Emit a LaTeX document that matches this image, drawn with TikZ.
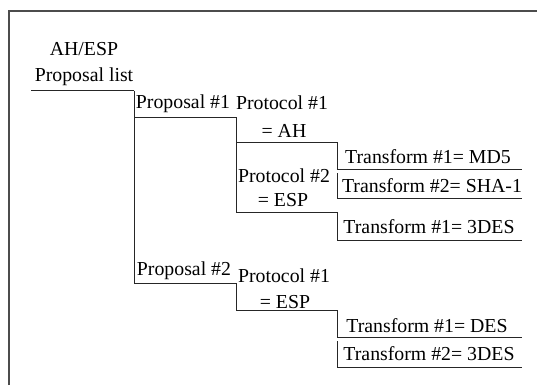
\documentclass[tikz,border=0pt]{standalone}
\usepackage{fontspec}
\setmainfont{Liberation Serif}
\begin{document}
\begin{tikzpicture}[x=1pt,y=-1pt,
  lbl/.style={inner sep=0pt,anchor=base,font=\fontsize{19.8}{24}\selectfont},
  branch/.style={draw=black!85,line width=1pt},
  frame/.style={draw=black!70,line width=1.6pt}]
\useasboundingbox (0,0) rectangle (537,385);
% outer frame (left and top edges)
\draw[frame] (9,385) -- (9,11) -- (537,11);

% labels
\node[lbl] (list1) at (84,56) {AH/ESP};
\node[lbl] (list2) at (84,82) {Proposal list};
\node[lbl] (prop1) at (183,108) {Proposal \#1};
\node[lbl] (prot11a) at (282,110) {Protocol \#1};
\node[lbl] (prot11b) at (284,137) {= AH};
\node[lbl] (prot12a) at (284,182) {Protocol \#2};
\node[lbl] (prot12b) at (283,206) {= ESP};
\node[lbl] (tr111) at (428,163) {Transform \#1= MD5};
\node[lbl] (tr112) at (432,192) {Transform \#2= SHA-1};
\node[lbl] (tr121) at (429,233) {Transform \#1= 3DES};
\node[lbl] (prop2) at (184,275) {Proposal \#2};
\node[lbl] (prot21a) at (284,282) {Protocol \#1};
\node[lbl] (prot21b) at (285,308) {= ESP};
\node[lbl] (tr211) at (427,332) {Transform \#1= DES};
\node[lbl] (tr212) at (429,360) {Transform \#2= 3DES};

% bracket corners
\coordinate (root-l) at (31,91);
\coordinate (root-r) at (134,91);
\coordinate (prop1-r) at (236,117);
\coordinate (prop2-r) at (236,283);
\coordinate (prot11-r) at (337,142);
\coordinate (prot12-r) at (337,212);
\coordinate (prot21-r) at (337,310);
\coordinate (tr111-r) at (522,169);
\coordinate (tr112-t) at (337,173);
\coordinate (tr112-r) at (522,198);
\coordinate (tr121-r) at (522,240);
\coordinate (tr211-r) at (522,337);
\coordinate (tr212-t) at (337,341);
\coordinate (tr212-r) at (522,367);

% tree brackets
\draw[branch] (root-l) -- (root-r);
\draw[branch] (root-r) |- (prop1-r);
\draw[branch] (root-r) |- (prop2-r);
\draw[branch] (prop1-r) |- (prot11-r);
\draw[branch] (prot11-r -| prop1-r) |- (prot12-r);
\draw[branch] (prot11-r) |- (tr111-r);
\draw[branch] (tr112-t) |- (tr112-r);
\draw[branch] (prot12-r) |- (tr121-r);
\draw[branch] (prop2-r) |- (prot21-r);
\draw[branch] (prot21-r) |- (tr211-r);
\draw[branch] (tr212-t) |- (tr212-r);
\end{tikzpicture}
\end{document}
